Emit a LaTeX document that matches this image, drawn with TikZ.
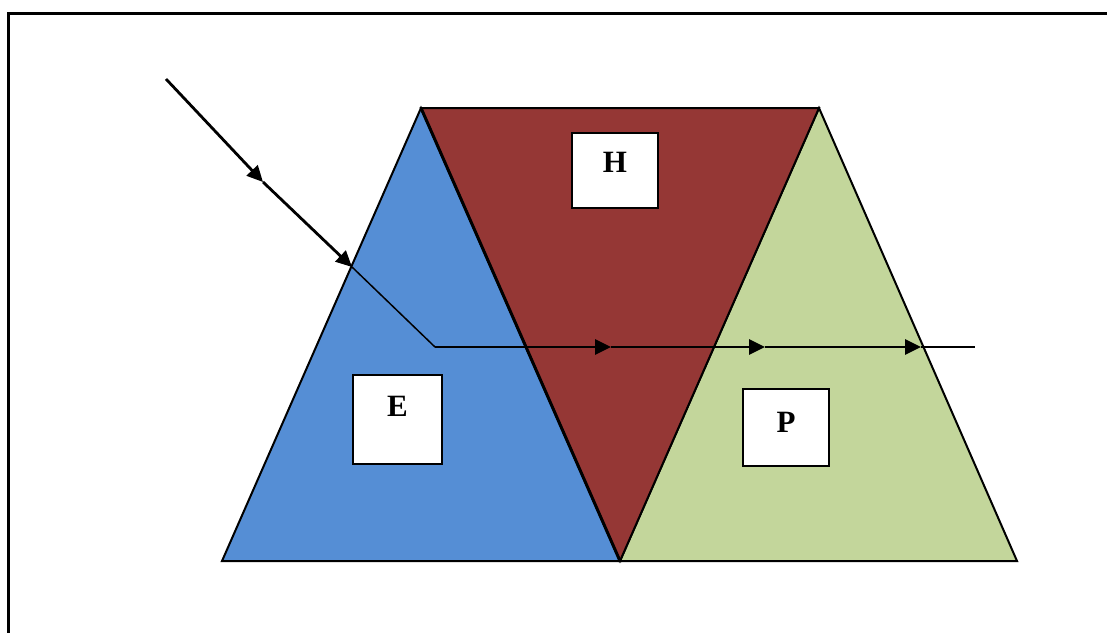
\documentclass[tikz,border=0pt]{standalone}
\usepackage{fontspec}
\setmainfont{Liberation Serif}
\usetikzlibrary{arrows.meta}
\definecolor{blueE}{HTML}{558ED5}
\definecolor{redH}{HTML}{953735}
\definecolor{greenP}{HTML}{C3D69B}
\newcommand{\lblfont}{\fontsize{31pt}{36pt}\selectfont\bfseries}
\tikzset{
  tri/.style={draw=black,line width=2pt,line join=miter},
  lbox/.style={draw=black,line width=2pt,fill=white,inner sep=0pt},
  lbl/.style={font=\lblfont,inner sep=0pt},
  ray/.style={line width=2.8pt,-{Triangle[length=16pt,width=15pt]}},
  thinray/.style={line width=1.5pt}
}
\begin{document}
\begin{tikzpicture}[x=1pt,y=-1pt]
\useasboundingbox (0,0) rectangle (1107,632);
\draw[line width=3pt] (8,640) -- (8,13) -- (1110,13);
% triangles
\filldraw[tri,fill=blueE] (421,108) -- (620,561) -- (222,561) -- cycle;
\filldraw[tri,fill=greenP] (819,108) -- (1017,561) -- (620,561) -- cycle;
\filldraw[tri,fill=redH] (421,108) -- (819,108) -- (620,561) -- cycle;
\draw[line width=3pt] (421,108) -- (620,561);
% boxes
\node[lbox,minimum width=89pt,minimum height=89pt] (E) at (397.5,419.5) {};
\node[lbl] at (397.5,406) {E};
\node[lbox,minimum width=86pt,minimum height=75pt] (H) at (615,170.5) {};
\node[lbl] at (615,162.5) {H};
\node[lbox,minimum width=86pt,minimum height=77pt] (P) at (786,427.5) {};
\node[lbl] at (786,422) {P};
% ray
\coordinate (s) at (166,79);
\coordinate (m1) at (263,182);
\coordinate (in) at (352,267);
\coordinate (k) at (435,347);
\coordinate (a1) at (611,347);
\coordinate (a2) at (765,347);
\coordinate (a3) at (921,347);
\coordinate (e) at (975,347);
\draw[ray] (s) -- (m1);
\draw[ray] (m1) -- (in);
\draw[thinray] (in) -- (k);
\draw[ray] (k) -- (a1);
\draw[ray] (a1) -- (a2);
\draw[ray] (a2) -- (a3);
\draw[thinray] (a3) -- (e);
\end{tikzpicture}
\end{document}
